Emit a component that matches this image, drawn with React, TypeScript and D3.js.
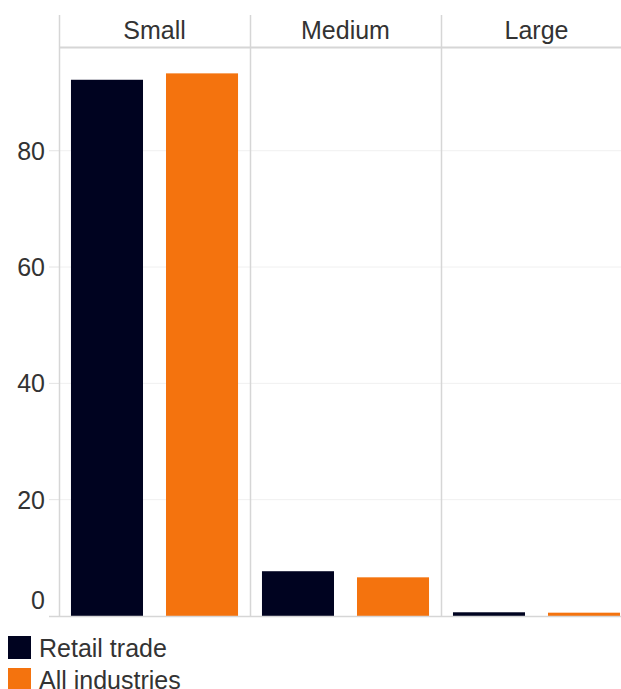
import React from "react";
import * as d3 from "d3";

const categories = ["Small", "Medium", "Large"];
const seriesNames = ["Retail trade", "All industries"];
const retailTrade = [92.2, 7.7, 0.64];
const allIndustries = [93.3, 6.65, 0.57];
const yTicks = [0, 20, 40, 60, 80];
const colors = ["#000320", "#f4730e"];

const W = 621;
const H = 689;
const FONT = "'Liberation Sans', Arial, Helvetica, sans-serif";

export default function App() {
  const plotLeft = 59;
  const panelW = 191;
  const plotTop = 47;
  const baseY = 616;
  const stripTop = 15;

  const fx = d3
    .scaleBand<string>()
    .domain(categories)
    .range([plotLeft, plotLeft + panelW * categories.length])
    .padding(0);
  const x = d3
    .scaleBand<string>()
    .domain(seriesNames)
    .range([0, panelW])
    .paddingInner(0.242)
    .paddingOuter(0.126);
  const y = d3.scaleLinear().domain([0, 100]).range([baseY, baseY - 581.6]);

  const series = [retailTrade, allIndustries];

  return (
    <svg
      width={W}
      height={H}
      style={{ position: "absolute", left: 0, top: 0, display: "block" }}
      fontFamily={FONT}
    >
      <rect x={0} y={0} width={W} height={H} fill="#fff" />
      {/* gridlines */}
      {yTicks
        .filter((t) => t > 0)
        .map((t) => (
          <g key={"g" + t}>
            <line x1={plotLeft} x2={W} y1={y(t)} y2={y(t)} stroke="#f0f0f0" strokeWidth={1} />
            <line x1={49} x2={plotLeft} y1={y(t)} y2={y(t)} stroke="#e4e4e4" strokeWidth={1} />
          </g>
        ))}
      {/* y labels */}
      {yTicks.map((t) => (
        <text
          key={"l" + t}
          x={45}
          y={t === 0 ? y(t) - 16.5 : y(t)}
          dy="0.36em"
          textAnchor="end"
          fontSize={25}
          fill="#333"
        >
          {t}
        </text>
      ))}
      {/* bars */}
      {categories.map((c, ci) => (
        <g key={c} transform={`translate(${fx(c)},0)`}>
          {seriesNames.map((s, si) => (
            <rect
              key={s}
              x={x(s)}
              y={y(series[si][ci])}
              width={x.bandwidth()}
              height={baseY - y(series[si][ci])}
              fill={colors[si]}
            />
          ))}
        </g>
      ))}
      {/* panel separators */}
      {categories.map((c) => (
        <line
          key={"v" + c}
          x1={(fx(c) as number) + 0.5}
          x2={(fx(c) as number) + 0.5}
          y1={stripTop}
          y2={baseY + 1}
          stroke="#d6d6d6"
          strokeWidth={1.5}
        />
      ))}
      {/* header line */}
      <line x1={plotLeft} x2={W} y1={plotTop + 0.5} y2={plotTop + 0.5} stroke="#d6d6d6" strokeWidth={2} />
      {/* baseline */}
      <line x1={49} x2={W} y1={baseY + 0.5} y2={baseY + 0.5} stroke="#d6d6d6" strokeWidth={1.5} />
      {/* category labels */}
      {categories.map((c) => (
        <text
          key={"c" + c}
          x={(fx(c) as number) + fx.bandwidth() / 2}
          y={39}
          textAnchor="middle"
          fontSize={25}
          fill="#333"
        >
          {c}
        </text>
      ))}
      {/* legend */}
      {seriesNames.map((s, i) => (
        <g key={"lg" + s} transform={`translate(8,${636 + i * 32})`}>
          <rect x={0} y={0} width={23} height={23} fill={colors[i]} />
          <text x={31} y={20.7} fontSize={25} fill="#333">
            {s}
          </text>
        </g>
      ))}
    </svg>
  );
}
